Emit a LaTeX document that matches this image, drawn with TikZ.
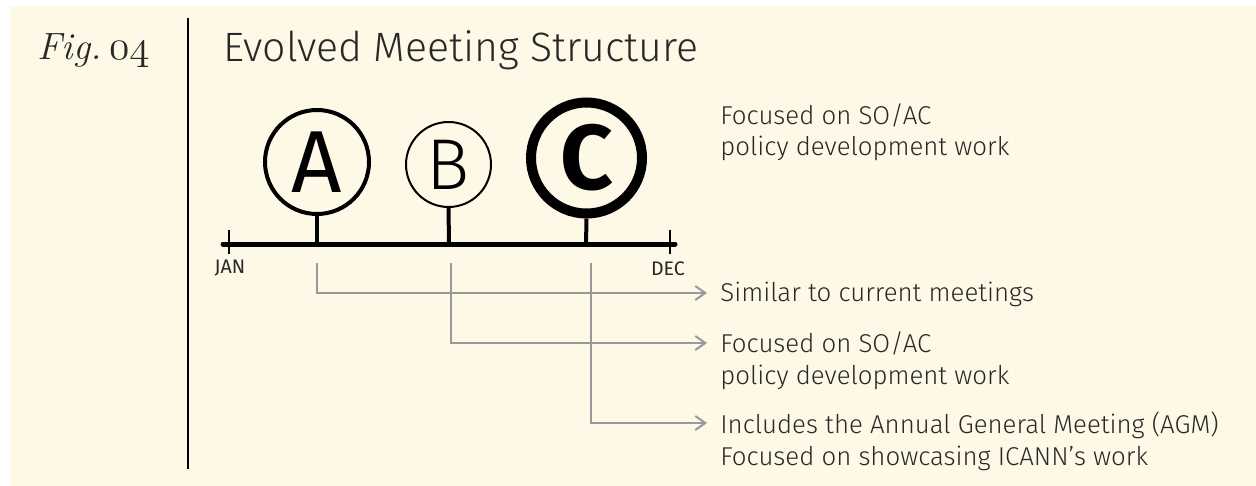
\documentclass[tikz,border=0pt]{standalone}
\usepackage{fontspec}
\setmainfont{Fira Sans}
\newfontfamily\lightfont{Fira Sans Light}
\newfontfamily\figfont{Latin Modern Roman}
\usetikzlibrary{arrows.meta,positioning}
\definecolor{cream}{RGB}{254,248,231}
\definecolor{linegrey}{RGB}{152,152,152}
\definecolor{textgrey}{RGB}{40,40,40}
\tikzset{
  meeting/.style={circle,draw=black,inner sep=0pt},
  stem/.style={line width=2pt},
  pointer/.style={draw=linegrey,line width=1pt,-{Straight Barb[length=5pt,width=7pt]}},
  note/.style={anchor=base west,inner sep=0pt,align=left,text=textgrey,
    font=\lightfont\fontsize{12.9}{16}\selectfont},
  month/.style={inner sep=0pt,text=textgrey,font=\fontsize{9.8}{10}\selectfont}
}
\begin{document}
\begin{tikzpicture}[x=0.5pt,y=-0.5pt]
\useasboundingbox (0,0) rectangle (1256,486);
\fill[cream] (10,6) rectangle (1256,486);

% heading
\node (fig) at (37,60) [anchor=base west,inner sep=0pt,text=textgrey]
  {\fontsize{19}{22}\selectfont\figfont\itshape Fig.\hspace{0.2em}{\fontsize{22}{22}\usefont{OML}{cmm}{m}{it}04}};
\draw[line width=1.25pt] (188,18) -- (188,469);
\node (title) at (223,62) [anchor=base west,inner sep=0pt,text=textgrey]
  {\lightfont\fontsize{20.5}{22}\selectfont Evolved Meeting Structure};

% time line
\coordinate (jan) at (223,244);
\coordinate (dec) at (675,244);
\draw[line width=2.5pt,line cap=round] (jan) -- (dec);
\draw[line width=1pt] (229,230) -- (229,254);
\draw[line width=1pt] (670,230) -- (670,254);
\node (janlabel) at (230,268.5) [month] {JAN};
\node (declabel) at (668,268.5) [month] {DEC};

% meetings
\node (A) at (317,162) [meeting,line width=2pt,minimum size=52pt]
  {\fontsize{44}{44}\selectfont A};
\node (B) at (448.5,164.5) [meeting,line width=1pt,minimum size=42.5pt]
  {\lightfont\fontsize{36}{36}\selectfont B};
\node (C) at (586.5,158) [meeting,line width=5pt,minimum size=55.5pt]
  {\fontsize{46}{46}\selectfont\bfseries C};
\coordinate (tA) at (317,244);
\coordinate (tB) at (449,244);
\coordinate (tC) at (586,244);
\draw[stem] (A.south) -- (tA);
\draw[stem] (B.south) -- (tB);
\draw[stem] (C.south) -- (tC);

% descriptions (base = last line)
\node (top) at (720,156) [note] {Focused on SO/AC\\policy development work};
\node (simA) at (720,301) [note] {Similar to current meetings};
\node (simB) at (720,384) [note] {Focused on SO/AC\\policy development work};
\node (simC) at (720,465) [note] {Includes the Annual General Meeting (AGM)\\Focused on showcasing ICANN’s work};

\coordinate (fromA) at (317,263);
\coordinate (fromB) at (451,263);
\coordinate (fromC) at (591,263);
\coordinate (toA) at (707,293);
\coordinate (toB) at (707,343);
\coordinate (toC) at (707,423);
\draw[pointer] (fromA) |- (toA);
\draw[pointer] (fromB) |- (toB);
\draw[pointer] (fromC) |- (toC);

\end{tikzpicture}
\end{document}
